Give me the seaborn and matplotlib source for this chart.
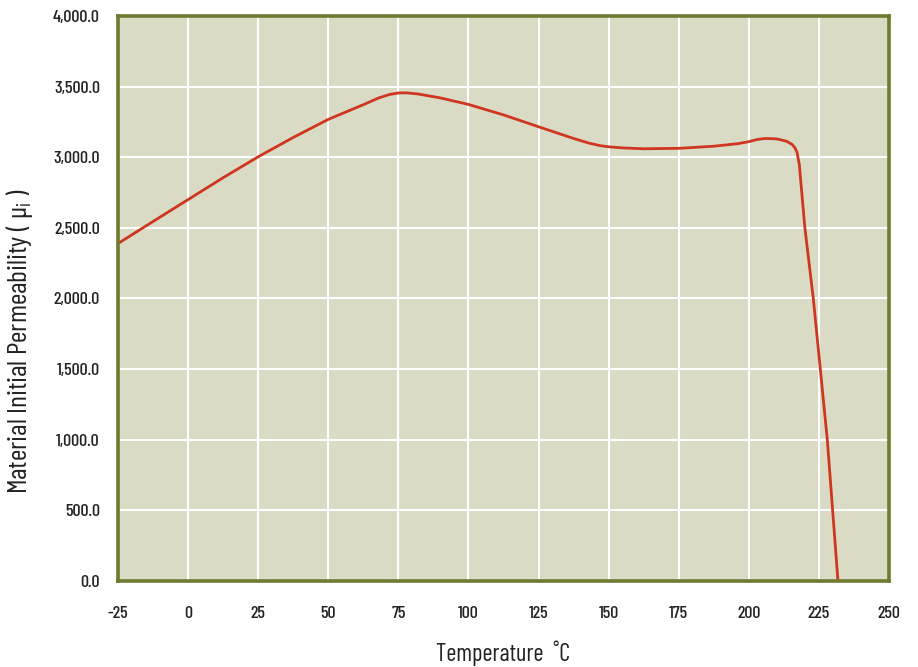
"""
Permeability vs temperature curve, recreated with seaborn.
Output: out.png
"""
import pandas as pd
import matplotlib.pyplot as plt
import matplotlib.ticker as mticker
import seaborn as sns

# --- Data ---
temps = [-25, -12.5, 0, 12.5, 25, 37.5, 50, 62.5, 68, 72, 75, 78, 82, 90, 100,
         112.5, 125, 137.5, 143, 147, 150, 155, 162.5, 175, 187.5, 196, 200,
         203, 206, 210, 213.5, 215.5, 216.5, 217.2, 218, 220, 223, 225.5, 228, 231.8]
perm = [2389, 2545, 2700, 2855, 3003, 3140, 3268, 3372, 3420, 3445, 3455, 3456,
        3448, 3420, 3374, 3300, 3216, 3133, 3100, 3082, 3074, 3066, 3060, 3063,
        3078, 3096, 3110, 3126, 3133, 3130, 3113, 3090, 3065, 3035, 2950, 2500,
        2000, 1500, 1000, 0]
x_ticks = list(range(-25, 251, 25))
y_ticks = list(range(0, 4001, 500))

df = pd.DataFrame({"Temperature": temps, "Permeability": perm})

sns.set_theme(style="darkgrid", rc={
    "figure.facecolor": "white",
    "axes.facecolor": "#DADBC5",
    "axes.edgecolor": "#6E7B2E",
    "axes.linewidth": 2.6,
    "grid.color": "white",
    "grid.linewidth": 1.5,
    "text.color": "#222222",
    "axes.labelcolor": "#222222",
    "xtick.color": "#222222",
    "ytick.color": "#222222",
    "axes.unicode_minus": False,
})
plt.rcParams["font.family"] = ["Barlow Condensed", "DejaVu Sans"]
plt.rcParams["font.weight"] = "medium"
plt.rcParams["mathtext.fontset"] = "custom"
plt.rcParams["mathtext.rm"] = "Barlow Condensed"

fig = plt.figure(figsize=(9.18, 6.67), dpi=100)
ax = fig.add_axes([0.1285, 0.129, 0.8399, 0.847])

sns.lineplot(data=df, x="Temperature", y="Permeability", ax=ax,
             color="#CF3620", linewidth=2.0, estimator=None, sort=False)

ax.set_xlim(-25, 250)
ax.set_ylim(0, 4000)
ax.set_xticks(x_ticks)
ax.set_yticks(y_ticks)
ax.yaxis.set_major_formatter(mticker.FuncFormatter(lambda v, p: f"{v:,.1f}"))
ax.tick_params(axis="both", length=0, labelsize=13)
ax.tick_params(axis="x", pad=18)
ax.tick_params(axis="y", pad=13)
for s in ax.spines.values():
    s.set_visible(True)
ax.set_axisbelow(True)

ax.set_xlabel("Temperature  ˚C", fontsize=17.5, labelpad=14)
ax.set_ylabel(r"Material Initial Permeability ( μ$_{\mathregular{i}}$ )",
              fontsize=20)
ax.yaxis.set_label_coords(-0.107, 0.425)

plt.savefig("out.png", dpi=100)
plt.close()
